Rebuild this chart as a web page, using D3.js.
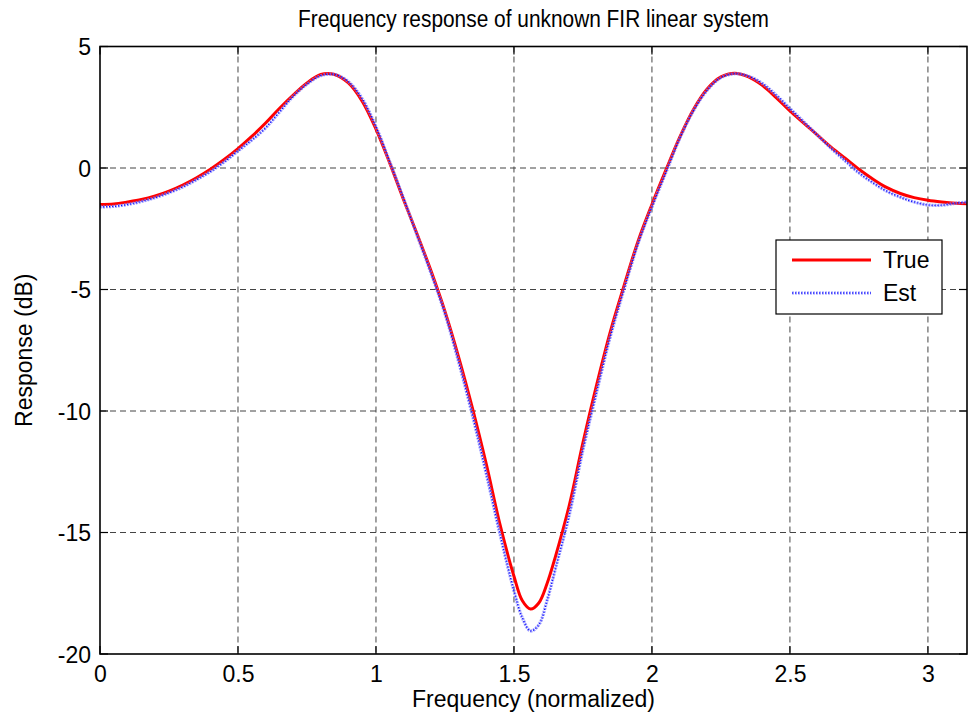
<!DOCTYPE html>
<html>
<head>
<meta charset="utf-8">
<script src="https://cdn.jsdelivr.net/npm/d3@7"></script>
<style>
  html, body { margin: 0; padding: 0; background: #fff; }
  svg { display: block; font-family: "Liberation Sans", Arial, sans-serif; }
</style>
</head>
<body>
<svg id="chart" width="972" height="719"></svg>
<script>
// Frequency grid (rad/sample) and magnitude responses in dB
const freq = [0, 0.05, 0.10, 0.15, 0.20, 0.25, 0.30, 0.35, 0.40, 0.45, 0.50, 0.55, 0.60, 0.65,
  0.70, 0.75, 0.80, 0.85, 0.90, 0.95, 1.00, 1.05, 1.10, 1.15, 1.20, 1.25, 1.30, 1.35, 1.40,
  1.45, 1.50, 1.53, 1.56, 1.59, 1.62, 1.65, 1.70, 1.75, 1.80, 1.85, 1.90, 1.95, 2.00, 2.05, 2.10,
  2.15, 2.20, 2.25, 2.30, 2.35, 2.40, 2.45, 2.50, 2.55, 2.60, 2.65, 2.70, 2.75, 2.80, 2.85,
  2.90, 2.95, 3.00, 3.05, 3.10, 3.1416];

const trueResp = [-1.50, -1.48, -1.40, -1.30, -1.15, -0.95, -0.70, -0.40, -0.05, 0.35, 0.80, 1.30,
  1.85, 2.45, 3.00, 3.50, 3.85, 3.85, 3.50, 2.75, 1.60, 0.20, -1.30, -2.75, -4.25, -5.90, -7.80,
  -9.90, -12.20, -14.70, -16.80, -17.80, -18.15, -17.90, -17.10, -16.00, -13.90, -11.30, -8.90,
  -6.70, -4.80, -3.00, -1.50, -0.10, 1.25, 2.40, 3.25, 3.75, 3.90, 3.75, 3.40, 2.90, 2.35, 1.85,
  1.35, 0.85, 0.40, -0.05, -0.45, -0.80, -1.05, -1.22, -1.33, -1.40, -1.45, -1.47];

const estResp = [-1.60, -1.58, -1.50, -1.38, -1.22, -1.02, -0.78, -0.48, -0.15, 0.25, 0.70, 1.15,
  1.65, 2.30, 2.95, 3.45, 3.80, 3.85, 3.55, 2.85, 1.70, 0.25, -1.25, -2.80, -4.35, -6.00, -8.00,
  -10.20, -12.60, -15.10, -17.40, -18.50, -19.05, -18.80, -17.80, -16.50, -14.30, -11.60, -9.20,
  -6.90, -4.95, -3.10, -1.60, -0.20, 1.20, 2.35, 3.20, 3.72, 3.88, 3.78, 3.48, 3.00, 2.45, 1.90,
  1.35, 0.80, 0.30, -0.20, -0.60, -0.95, -1.20, -1.40, -1.52, -1.53, -1.45, -1.40];

const xTicks = [0, 0.5, 1, 1.5, 2, 2.5, 3];
const yTicks = [-20, -15, -10, -5, 0, 5];
const seriesNames = ["True", "Est"];

const plot = { left: 100, right: 967, top: 46.5, bottom: 654 };
const svg = d3.select("#chart");

const x = d3.scaleLinear().domain([0, Math.PI]).range([plot.left, plot.right]);
const y = d3.scaleLinear().domain([-20, 5]).range([plot.bottom, plot.top]);

// Tick labels use a plain hyphen for negative numbers
const fmt = d => String(d);

// Grid lines
const grid = svg.append("g").attr("stroke", "#444").attr("stroke-width", 1)
  .attr("stroke-dasharray", "6,4");
grid.selectAll("line.vx").data(xTicks.filter(d => d > 0)).join("line")
  .attr("x1", d => x(d)).attr("x2", d => x(d))
  .attr("y1", plot.top).attr("y2", plot.bottom);
grid.selectAll("line.hy").data(yTicks.filter(d => d > -20 && d < 5)).join("line")
  .attr("x1", plot.left).attr("x2", plot.right)
  .attr("y1", d => y(d)).attr("y2", d => y(d));

// Curves
const line = d3.line().x((d, i) => x(freq[i])).y(d => y(d)).curve(d3.curveCatmullRom);
svg.append("path").datum(trueResp).attr("d", line)
  .attr("fill", "none").attr("stroke", "#ff0000").attr("stroke-width", 3)
  .attr("stroke-linejoin", "round");
svg.append("path").datum(estResp).attr("d", line)
  .attr("fill", "none").attr("stroke", "#7878ff").attr("stroke-width", 3.2)
  .attr("stroke-opacity", 0.75).attr("stroke-dasharray", "2,1");
svg.append("path").datum(estResp).attr("d", line)
  .attr("fill", "none").attr("stroke", "#0000ff").attr("stroke-width", 1.2)
  .attr("stroke-dasharray", "1,2");

// Axes box with inward ticks on all sides
const axisG = svg.append("g");
const tickLen = 8;
const bottomAxis = d3.axisBottom(x).tickValues(xTicks).tickSize(0).tickFormat(fmt);
const leftAxis = d3.axisLeft(y).tickValues(yTicks).tickSize(0).tickFormat(fmt);

const gb = axisG.append("g").attr("transform", `translate(0,${plot.bottom})`).call(bottomAxis);
gb.select(".domain").remove();
gb.selectAll("text").attr("dy", 0).attr("y", 28).attr("fill", "#000")
  .style("font-size", "23px").attr("font-family", "Liberation Sans, Arial, sans-serif");

const gl = axisG.append("g").attr("transform", `translate(${plot.left},0)`).call(leftAxis);
gl.select(".domain").remove();
gl.selectAll("text").attr("x", -9).attr("dy", "0.36em").attr("fill", "#000")
  .style("font-size", "23px").attr("font-family", "Liberation Sans, Arial, sans-serif");

const ticks = axisG.append("g").attr("stroke", "#000").attr("stroke-width", 1.2);
xTicks.forEach(v => {
  ticks.append("line").attr("x1", x(v)).attr("x2", x(v)).attr("y1", plot.bottom).attr("y2", plot.bottom - tickLen);
  ticks.append("line").attr("x1", x(v)).attr("x2", x(v)).attr("y1", plot.top).attr("y2", plot.top + tickLen);
});
yTicks.forEach(v => {
  ticks.append("line").attr("y1", y(v)).attr("y2", y(v)).attr("x1", plot.left).attr("x2", plot.left + tickLen);
  ticks.append("line").attr("y1", y(v)).attr("y2", y(v)).attr("x1", plot.right).attr("x2", plot.right - tickLen);
});
axisG.append("rect").attr("x", plot.left).attr("y", plot.top)
  .attr("width", plot.right - plot.left).attr("height", plot.bottom - plot.top)
  .attr("fill", "none").attr("stroke", "#000").attr("stroke-width", 1.6);

// Title and axis labels
svg.append("text").attr("x", (plot.left + plot.right) / 2).attr("y", 27)
  .attr("text-anchor", "middle").style("font-size", "23px")
  .attr("textLength", 471).attr("lengthAdjust", "spacingAndGlyphs")
  .text("Frequency response of unknown FIR linear system");
svg.append("text").attr("x", (plot.left + plot.right) / 2).attr("y", 707)
  .attr("text-anchor", "middle").style("font-size", "23px")
  .text("Frequency (normalized)");
svg.append("text").attr("transform", `translate(32,${(plot.top + plot.bottom) / 2}) rotate(-90)`)
  .attr("text-anchor", "middle").style("font-size", "23px")
  .text("Response (dB)");

// Legend
const lg = svg.append("g").attr("transform", "translate(776,240)");
lg.append("rect").attr("width", 166).attr("height", 74)
  .attr("fill", "#fff").attr("stroke", "#000").attr("stroke-width", 1.2);
lg.append("line").attr("x1", 16).attr("x2", 95).attr("y1", 20).attr("y2", 20)
  .attr("stroke", "#ff0000").attr("stroke-width", 3);
lg.append("line").attr("x1", 16).attr("x2", 95).attr("y1", 53).attr("y2", 53)
  .attr("stroke", "#7878ff").attr("stroke-width", 3.2).attr("stroke-opacity", 0.75)
  .attr("stroke-dasharray", "2,1");
lg.append("line").attr("x1", 16).attr("x2", 95).attr("y1", 53).attr("y2", 53)
  .attr("stroke", "#0000ff").attr("stroke-width", 1.2).attr("stroke-dasharray", "1,2");
lg.selectAll("text.lbl").data(seriesNames).join("text")
  .attr("x", 107).attr("y", (d, i) => 28 + i * 33)
  .style("font-size", "23px").text(d => d);
</script>
</body>
</html>
